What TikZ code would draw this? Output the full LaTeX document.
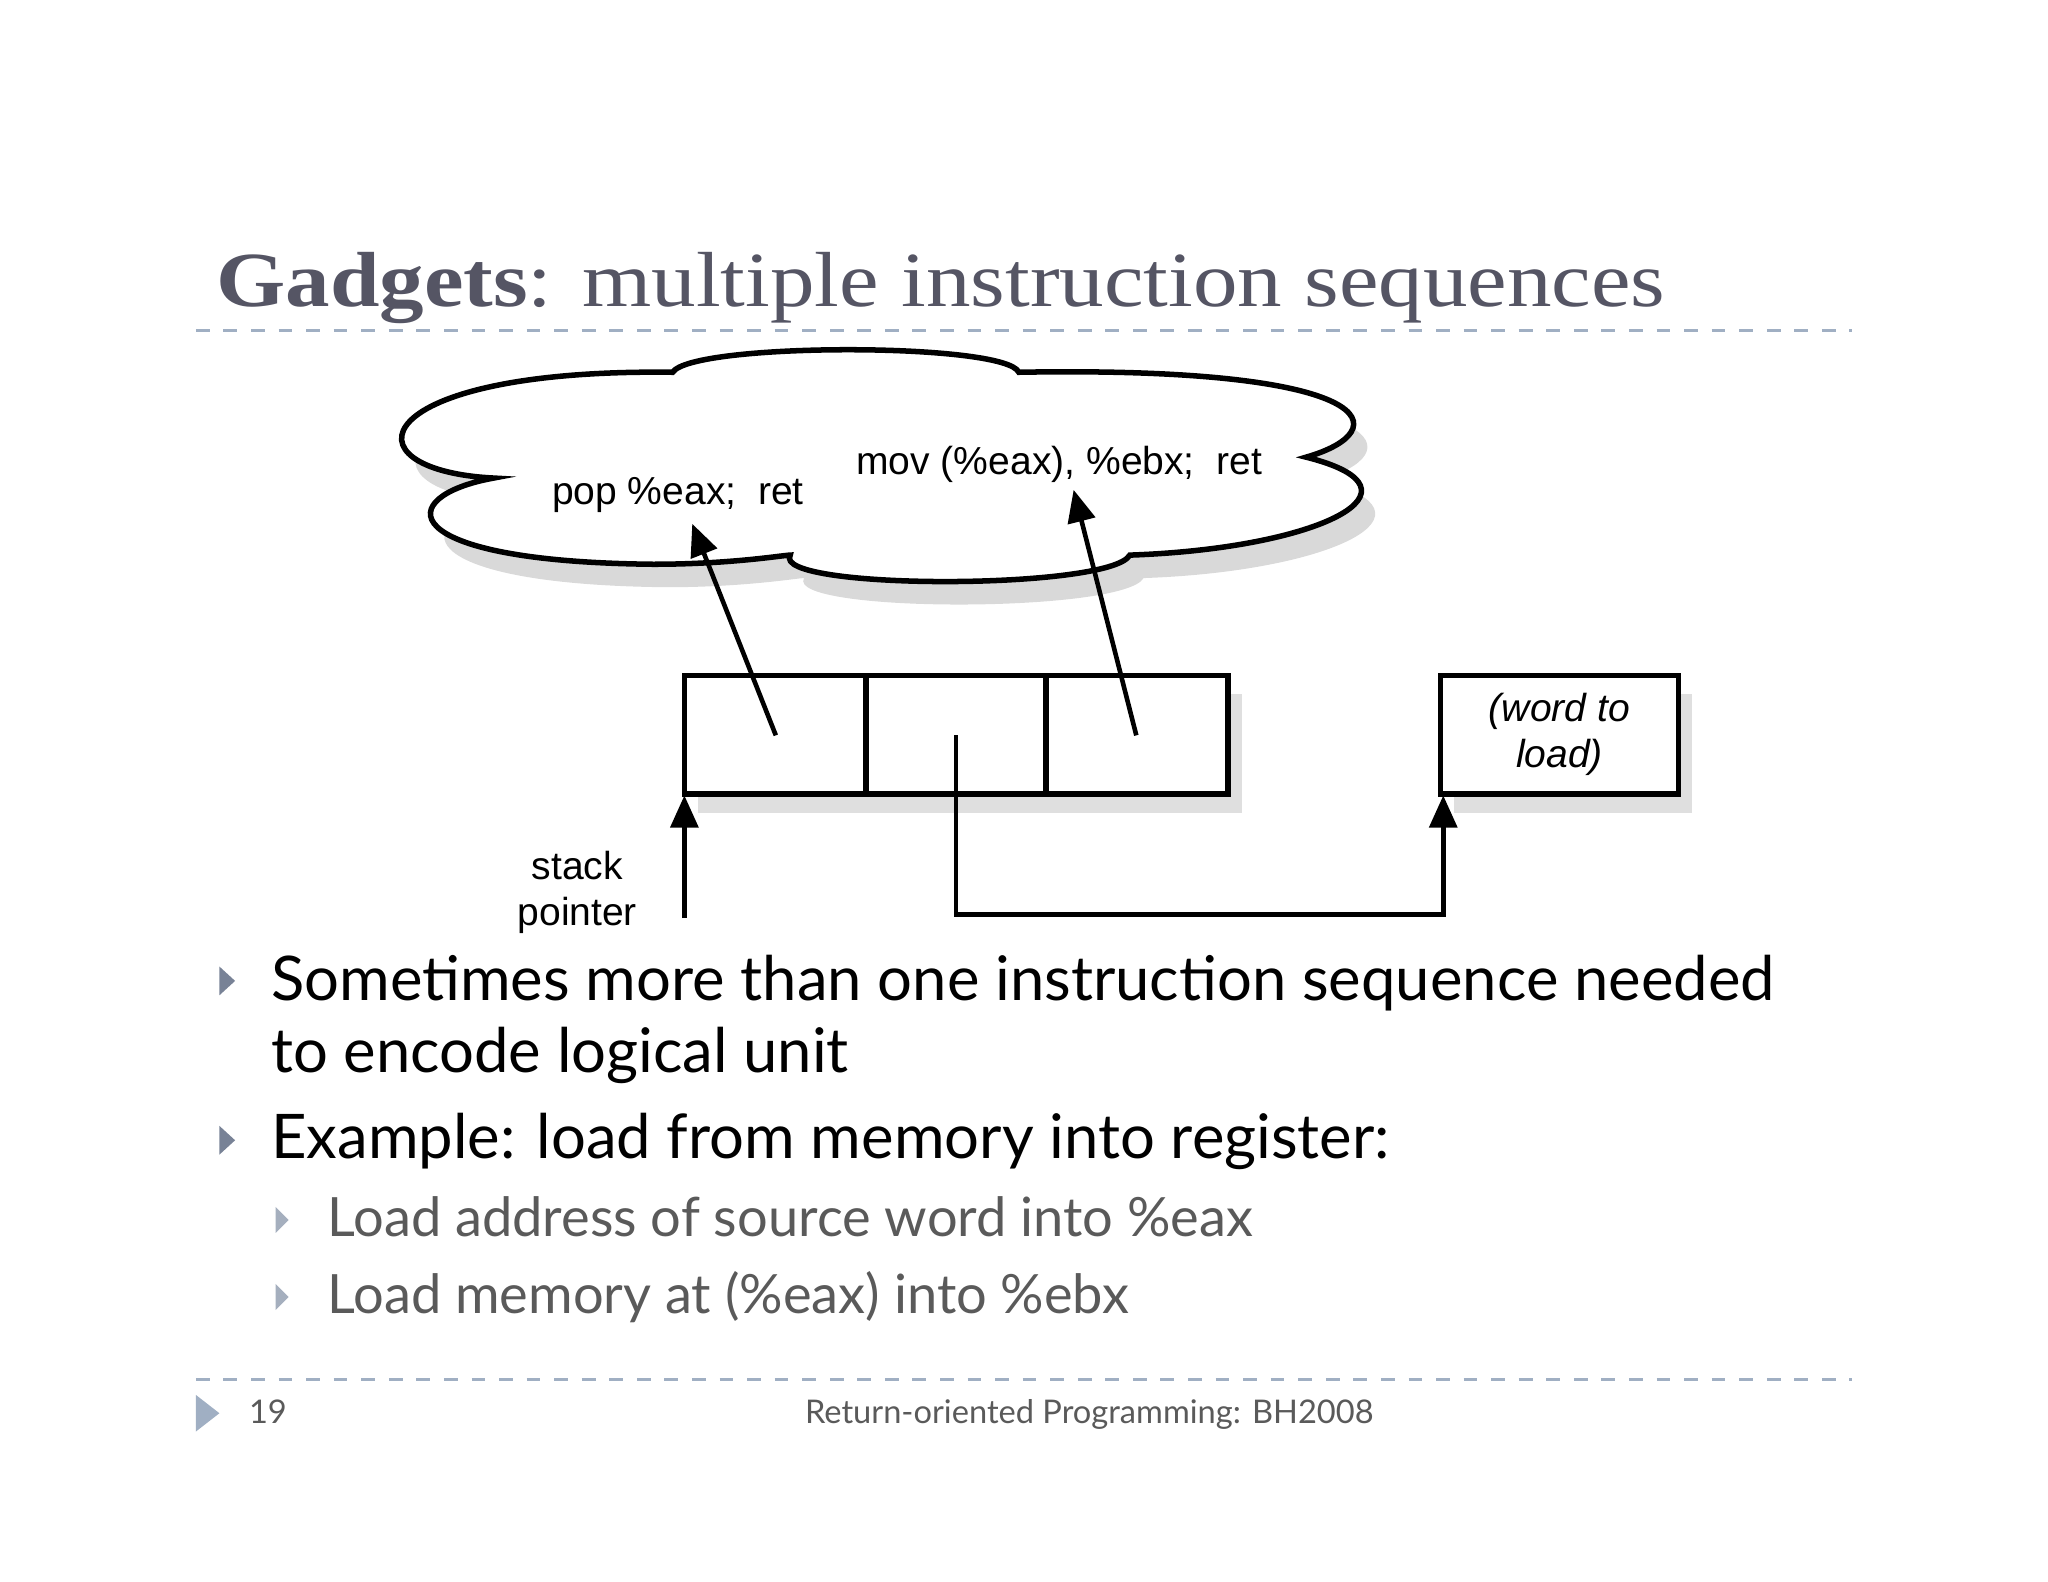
\documentclass[tikz,border=0pt]{standalone}
\usepackage{fontspec}
\setmainfont{Liberation Serif}
\newfontfamily\gill{Lato}
\newfontfamily\helv{Liberation Sans}
\usetikzlibrary{shadows,arrows.meta}
\definecolor{titlec}{RGB}{85,85,100}
\definecolor{dashc}{RGB}{160,175,195}
\definecolor{bulc}{RGB}{120,130,150}
\definecolor{bulc2}{RGB}{165,175,190}
\definecolor{subc}{RGB}{90,90,90}
\begin{document}
\begin{tikzpicture}[x=0.01cm,y=-0.01cm,
  cell/.style={draw,line width=1.2pt,fill=white,drop shadow={opacity=0.25,shadow xshift=3pt,shadow yshift=-4pt}},
  lab/.style={font=\helv\fontsize{8.5}{10}\selectfont,align=center},
  arr/.style={line width=1pt,-{Triangle[length=7pt,width=6pt]}},
  dl/.style={dashc,dashed,line width=0.6pt}]
\useasboundingbox (0,0) rectangle (1568,1211);
% title
\node[anchor=base west,inner sep=0,text=titlec,font=\fontsize{17}{20}\selectfont] (title) at (165,235) {\scalebox{1.14}[1]{\textbf{Gadgets}: multiple instruction sequences}};
\draw[dl] (150,253) -- (1418,253);
\draw[dl] (150,1056) -- (1418,1056);
% cloud
\filldraw[fill=white,line width=1.2pt,drop shadow={opacity=0.3,shadow xshift=3pt,shadow yshift=-5pt}]
 (378,366) .. controls (300,380) and (300,430) .. (500,432)
 .. controls (560,432) and (600,425) .. (605,425)
 .. controls (590,452) and (850,452) .. (865,425)
 .. controls (1010,420) and (1100,375) .. (1000,350)
 .. controls (1070,330) and (1060,280) .. (780,285)
 .. controls (770,262) and (530,262) .. (515,285)
 .. controls (280,282) and (260,360) .. (378,366) -- cycle;
\node[lab,anchor=base] (g1) at (519,386) {pop \%eax;\ \ ret};
\node[lab,anchor=base] (g2) at (811,363) {mov (\%eax), \%ebx;\ \ ret};
% stack cells
\path[cell] (524,517) rectangle (940,608);
\draw[line width=1.2pt] (663,517) -- (663,608) (801,517) -- (801,608);
\path[cell] (1103,517) rectangle (1285,608);
\node[lab,font=\helv\itshape\fontsize{8.5}{10}\selectfont] (w) at (1194,562) {(word to\\load)};
\coordinate (c1) at (594,563);
\coordinate (c2) at (732,563);
\coordinate (c3) at (870,563);
\coordinate (t1) at (530,401);
\coordinate (t2) at (822,375);
\coordinate (sp) at (524,703);
\coordinate (spt) at (524,609);
\coordinate (wt) at (1105,609);
\coordinate (k1) at (732,700);
\coordinate (k2) at (1105,700);
\draw[arr] (c1) -- (t1);
\draw[arr] (c3) -- (t2);
\draw[arr] (sp) -- (spt);
\draw[arr] (c2) -- (k1) -- (k2) -- (wt);
\node[lab] (spl) at (442,683) {stack\\pointer};
% bullets
\begin{scope}[font=\gill\fontsize{13.4}{15}\selectfont]
\fill[bulc] (168,740) -- (180,751) -- (168,762) -- cycle;
\node[anchor=base west,inner sep=0] (b1) at (207,766) {Sometimes more than one instruction sequence needed};
\node[anchor=base west,inner sep=0] (b1b) at (207,821) {to encode logical unit};
\fill[bulc] (168,862) -- (180,873) -- (168,884) -- cycle;
\node[anchor=base west,inner sep=0] (b2) at (207,887) {Example: load from memory into register:};
\end{scope}
\begin{scope}[font=\gill\fontsize{11.8}{13}\selectfont]
\fill[bulc2] (211,924) -- (221,934) -- (211,944) -- cycle;
\node[anchor=base west,inner sep=0,text=subc] (s1) at (250,947) {Load address of source word into \%eax};
\fill[bulc2] (211,983) -- (221,993) -- (211,1003) -- cycle;
\node[anchor=base west,inner sep=0,text=subc] (s2) at (250,1006) {Load memory at (\%eax) into \%ebx};
\end{scope}
% footer
\fill[dashc] (150,1068) -- (168,1082) -- (150,1096) -- cycle;
\node[anchor=base west,inner sep=0,font=\gill\fontsize{7.1}{9}\selectfont,text=subc] (pn) at (190,1090) {19};
\node[anchor=base,inner sep=0,font=\gill\fontsize{7.1}{9}\selectfont,text=subc] (ft) at (834,1090) {Return-oriented Programming: BH2008};
\end{tikzpicture}
\end{document}
